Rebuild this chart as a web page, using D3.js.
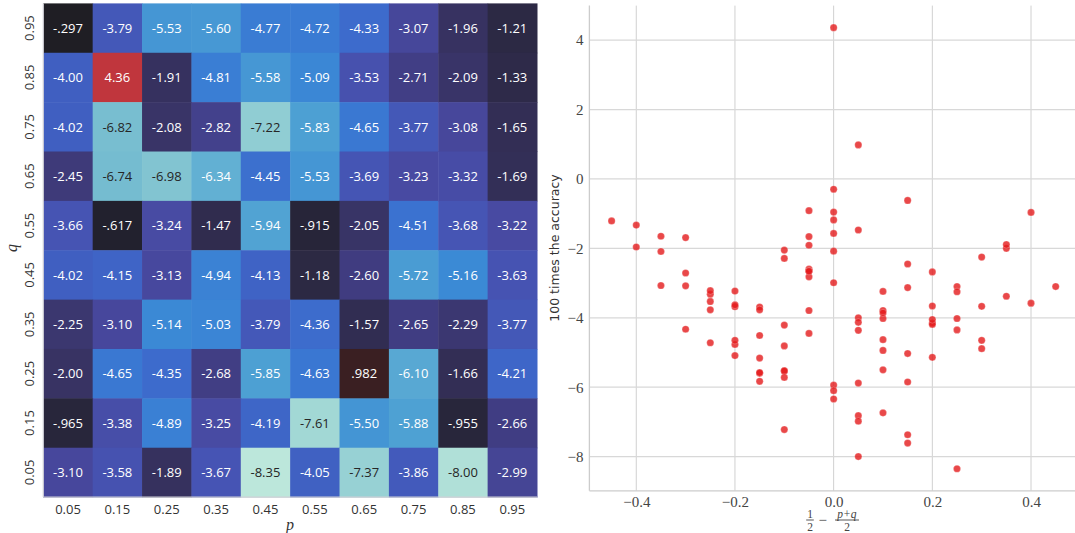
<!DOCTYPE html>
<html><head><meta charset="utf-8">
<script src="https://cdn.jsdelivr.net/npm/d3@7"></script>
<style>body{margin:0;background:#fff}svg{display:block}</style>
</head><body>
<svg id="c" width="1075" height="533"></svg>
<script>
// ---- data ----
const pValues = [0.05,0.15,0.25,0.35,0.45,0.55,0.65,0.75,0.85,0.95];
const qValues = [0.95,0.85,0.75,0.65,0.55,0.45,0.35,0.25,0.15,0.05]; // top to bottom
const row_q095 = [-0.297,-3.79,-5.53,-5.60,-4.77,-4.72,-4.33,-3.07,-1.96,-1.21];
const row_q085 = [-4.00,4.36,-1.91,-4.81,-5.58,-5.09,-3.53,-2.71,-2.09,-1.33];
const row_q075 = [-4.02,-6.82,-2.08,-2.82,-7.22,-5.83,-4.65,-3.77,-3.08,-1.65];
const row_q065 = [-2.45,-6.74,-6.98,-6.34,-4.45,-5.53,-3.69,-3.23,-3.32,-1.69];
const row_q055 = [-3.66,-0.617,-3.24,-1.47,-5.94,-0.915,-2.05,-4.51,-3.68,-3.22];
const row_q045 = [-4.02,-4.15,-3.13,-4.94,-4.13,-1.18,-2.60,-5.72,-5.16,-3.63];
const row_q035 = [-2.25,-3.10,-5.14,-5.03,-3.79,-4.36,-1.57,-2.65,-2.29,-3.77];
const row_q025 = [-2.00,-4.65,-4.35,-2.68,-5.85,-4.63,0.982,-6.10,-1.66,-4.21];
const row_q015 = [-0.965,-3.38,-4.89,-3.25,-4.19,-7.61,-5.50,-5.88,-0.955,-2.66];
const row_q005 = [-3.10,-3.58,-1.89,-3.67,-8.35,-4.05,-7.37,-3.86,-8.00,-2.99];
const rows = [row_q095,row_q085,row_q075,row_q065,row_q055,row_q045,row_q035,row_q025,row_q015,row_q005];
const pTickLabels = ["0.05","0.15","0.25","0.35","0.45","0.55","0.65","0.75","0.85","0.95"];
const qTickLabels = ["0.95","0.85","0.75","0.65","0.55","0.45","0.35","0.25","0.15","0.05"];
const scatterXTicks = [-0.4,-0.2,0.0,0.2,0.4];
const scatterYTicks = [4,2,0,-2,-4,-6,-8];

// icefire-like colormap stops (t in [0,1])
const iceT = [0,0.044,0.068,0.092,0.12,0.15,0.192,0.22,0.24,0.26,0.281,0.31,0.338,0.387,0.428,0.46,0.482,0.5,0.559,0.65,0.761,0.85,1];
const iceC = ["#bce7db","#a2d8d5","#90cdd3","#78bed0","#62b0d3","#4da0d3","#3b89d5","#3a79d3","#3d6bcc","#405fc1","#4654b3","#4849a0","#413e85","#36315e","#2c2944","#232230","#1f1e24","#1e1e1e","#3a1f22","#7d2334","#c0363d","#e8653c","#fdeb9b"];

const svg = d3.select("#c");
const cells = [];
rows.forEach((r,i)=>r.forEach((v,j)=>cells.push({p:pValues[j],q:qValues[i],v})));

// ---- heatmap ----
const hx = d3.scaleBand().domain(pValues).range([43.3,537]);
const hy = d3.scaleBand().domain(qValues).range([3.4,497.1]);
const norm = d3.scaleLinear().domain([-8.35,8.35]).range([0,1]);
const cmap = d3.scaleLinear().domain(iceT).range(iceC).interpolate(d3.interpolateRgb);
const color = v=>cmap(norm(v));
const fmt = v=>{let s=d3.format(".3r")(v).replace("−","-");return s.replace(/^(-?)0\./,"$1.");};
const lum = c=>{const o=d3.rgb(c);const f=x=>{x/=255;return x<=0.03928?x/12.92:Math.pow((x+0.055)/1.055,2.4)};return 0.2126*f(o.r)+0.7152*f(o.g)+0.0722*f(o.b);};

const hm = svg.append("g");
hm.selectAll("rect").data(cells).join("rect")
  .attr("x",d=>hx(d.p)).attr("y",d=>hy(d.q))
  .attr("width",hx.bandwidth()+0.5).attr("height",hy.bandwidth()+0.5)
  .attr("fill",d=>color(d.v));
hm.selectAll("text.ann").data(cells).join("text").attr("class","ann")
  .attr("x",d=>hx(d.p)+hx.bandwidth()/2).attr("y",d=>hy(d.q)+hy.bandwidth()/2)
  .attr("dy","0.36em").attr("text-anchor","middle")
  .style("font-family","'Open Sans'").style("font-size","13px")
  .attr("fill",d=>lum(color(d.v))>0.408?"#262626":"#ffffff")
  .text(d=>fmt(d.v));
// spines
hm.append("line").attr("x1",43.3).attr("x2",43.3).attr("y1",3.4).attr("y2",497.1).attr("stroke","#cfcfd6").attr("stroke-width",1.2);
hm.append("line").attr("x1",43.3).attr("x2",537).attr("y1",497.1).attr("y2",497.1).attr("stroke","#cfcfd6").attr("stroke-width",1.2);
// ticks
const hxAxis = d3.axisBottom(hx).tickSize(0).tickPadding(0).tickFormat((d,i)=>pTickLabels[i]);
const gx = hm.append("g").attr("transform","translate(0,497.1)").call(hxAxis);
gx.select(".domain").remove();
gx.selectAll("text").attr("y",17).attr("dy","0").style("font-family","'Open Sans'").style("font-size","13px").attr("fill","#333");
const hyAxis = d3.axisLeft(hy).tickSize(0).tickPadding(0).tickFormat((d,i)=>qTickLabels[i]);
const gy = hm.append("g").attr("transform","translate(43.3,0)").call(hyAxis);
gy.select(".domain").remove();
gy.selectAll("text").attr("x",0).attr("dy","0").attr("text-anchor","middle")
  .attr("transform","translate(-9,0) rotate(-90)").style("font-family","'Open Sans'").style("font-size","13px").attr("fill","#333");
hm.append("text").attr("x",290).attr("y",530).attr("text-anchor","middle")
  .style("font-family","'Liberation Serif'").style("font-style","italic").style("font-size","16px").attr("fill","#333").text("p");
hm.append("text").attr("transform","translate(17,248) rotate(-90)").attr("text-anchor","middle")
  .style("font-family","'Liberation Serif'").style("font-style","italic").style("font-size","16px").attr("fill","#333").text("q");

// ---- scatter ----
const sx = d3.scaleLinear().domain([-0.495,0.495]).range([589.4,1077.9]);
const sy = d3.scaleLinear().domain([-8.9855,4.9955]).range([490.8,5.6]);
const sc = svg.append("g");
sc.selectAll("line.vg").data(scatterXTicks).join("line").attr("class","vg")
  .attr("x1",d=>sx(d)).attr("x2",d=>sx(d)).attr("y1",5.6).attr("y2",490.8)
  .attr("stroke","#d0d0d0").attr("stroke-width",1);
sc.selectAll("line.hg").data(scatterYTicks).join("line").attr("class","hg")
  .attr("x1",589.4).attr("x2",1077.9).attr("y1",d=>sy(d)).attr("y2",d=>sy(d))
  .attr("stroke","#d8d8d8").attr("stroke-width",1.3);
sc.append("line").attr("x1",589.4).attr("x2",589.4).attr("y1",5.6).attr("y2",490.8).attr("stroke","#cccccc").attr("stroke-width",1.3);
sc.append("line").attr("x1",589.4).attr("x2",1077.9).attr("y1",490.8).attr("y2",490.8).attr("stroke","#cccccc").attr("stroke-width",1.3);
const xa = sc.append("g").attr("transform","translate(0,490.8)")
  .call(d3.axisBottom(sx).tickValues(scatterXTicks).tickSize(0).tickPadding(0).tickFormat(d3.format(".1f")));
xa.select(".domain").remove();
xa.selectAll("text").attr("y",16).attr("dy","0").style("font-family","'Liberation Serif'").style("font-size","15px").attr("fill","#444");
const ya = sc.append("g").attr("transform","translate(589.4,0)")
  .call(d3.axisLeft(sy).tickValues(scatterYTicks).tickSize(0).tickPadding(6).tickFormat(d3.format("d")));
ya.select(".domain").remove();
ya.selectAll("text").style("font-family","'Liberation Serif'").style("font-size","15px").attr("fill","#444");
sc.selectAll("circle").data(cells).join("circle")
  .attr("cx",d=>sx(0.5-(d.p+d.q)/2)).attr("cy",d=>sy(d.v)).attr("r",3.6)
  .attr("fill","#e41a1c").attr("fill-opacity",0.8).attr("stroke","#fff").attr("stroke-width",0.4).attr("stroke-opacity",0.6);
sc.append("text").attr("transform","translate(559,248) rotate(-90)").attr("text-anchor","middle")
  .style("font-family","'DejaVu Sans'").style("font-size","12.5px").attr("fill","#333").text("100 times the accuracy");
// x label: 1/2 − (p+q)/2
const fl = sc.append("g").attr("transform","translate(810,520)").style("font-family","'Liberation Serif'").attr("fill","#444");
fl.append("text").attr("x",0).attr("y",-2).attr("text-anchor","middle").style("font-size","11.5px").text("1");
fl.append("line").attr("x1",-3.8).attr("x2",3.8).attr("y1",0).attr("y2",0).attr("stroke","#444").attr("stroke-width",0.9);
fl.append("text").attr("x",0).attr("y",10.5).attr("text-anchor","middle").style("font-size","11.5px").text("2");
fl.append("text").attr("x",8.5).attr("y",4.5).attr("text-anchor","start").style("font-size","15px").text("−");
fl.append("text").attr("x",37).attr("y",-2).attr("text-anchor","middle").style("font-size","11.5px").style("font-style","italic").text("p+q");
fl.append("line").attr("x1",25).attr("x2",49).attr("y1",0).attr("y2",0).attr("stroke","#444").attr("stroke-width",0.9);
fl.append("text").attr("x",37).attr("y",10.5).attr("text-anchor","middle").style("font-size","11.5px").text("2");
</script>
</body></html>
